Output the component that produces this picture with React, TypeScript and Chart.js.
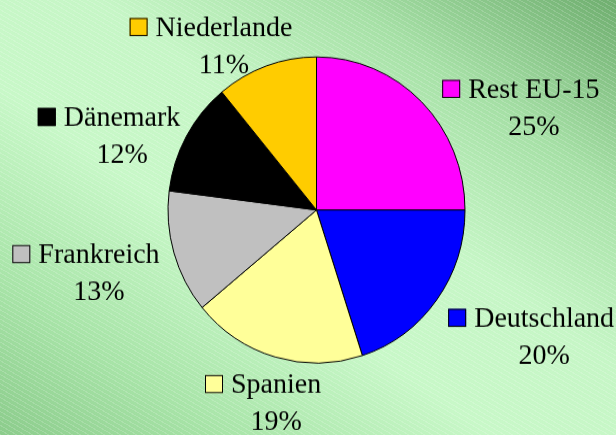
import React, { useEffect, useRef } from "react";
import { Chart, registerables } from "chart.js";

Chart.register(...registerables);

// ---- data ----
const categories = ["Rest EU-15", "Deutschland", "Spanien", "Frankreich", "Dänemark", "Niederlande"];
const shares = [25, 20, 19, 13, 12, 11];
const sliceColors = ["#FF00FF", "#0000FF", "#FFFF99", "#C0C0C0", "#000000", "#FFCC00"];

// ---- label layout (relative to each slice's mid angle / radius) ----
const labelShiftDeg = [20.4, -7.7, -4.0, 0.6, -8.4, -10.3];
const labelDist = [1.61, 1.741, 1.287, 1.521, 1.397, 1.242];

const W = 616;
const H_SCREEN = 435;
const H = 422; // internal canvas height, stretched to 435 (pie is slightly taller than wide)
const SY = H / H_SCREEN;

const labelPlugin = {
  id: "pieLabels",
  afterDatasetsDraw(chart: any) {
    const ctx = chart.ctx as CanvasRenderingContext2D;
    const meta = chart.getDatasetMeta(0);
    const data = chart.data.datasets[0].data as number[];
    const total = data.reduce((a, b) => a + b, 0);
    ctx.save();
    ctx.font = "28px 'Liberation Serif', 'Times New Roman', serif";
    ctx.fillStyle = "#000000";
    ctx.textBaseline = "alphabetic";
    ctx.textAlign = "center";
    meta.data.forEach((arc: any, i: number) => {
      const { x, y, startAngle, endAngle, outerRadius } = arc.getProps(
        ["x", "y", "startAngle", "endAngle", "outerRadius"],
        true
      );
      const mid = (startAngle + endAngle) / 2 + (labelShiftDeg[i] * Math.PI) / 180;
      const d = outerRadius * labelDist[i];
      const cx = x + Math.cos(mid) * d;
      const cy = y + Math.sin(mid) * d;
      const base1 = cy - 9.5 * SY;
      const base2 = base1 + 37 * SY;
      const name = chart.data.labels[i] as string;
      const nameW = ctx.measureText(name).width;
      ctx.fillText(name, cx, base1);
      const pct = Math.round((data[i] / total) * 100) + "%";
      ctx.fillText(pct, cx, base2);
      // legend key
      const bs = 18;
      const bx = cx - nameW / 2 - 8 - bs;
      const bh = bs * SY;
      ctx.fillStyle = sliceColors[i];
      ctx.fillRect(bx, base1 - bh, bs, bh);
      ctx.lineWidth = 1;
      ctx.strokeStyle = "#000000";
      ctx.strokeRect(bx + 0.5, base1 - bh + 0.5, bs - 1, bh - 1);
      ctx.fillStyle = "#000000";
    });
    ctx.restore();
  },
};

export default function App() {
  const ref = useRef<HTMLCanvasElement | null>(null);

  useEffect(() => {
    document.body.style.margin = "0";
    const canvas = ref.current;
    if (!canvas) return;
    const chart = new Chart(canvas, {
      type: "pie",
      data: {
        labels: categories,
        datasets: [
          {
            data: shares,
            backgroundColor: sliceColors,
            borderColor: "#000000",
            borderWidth: 1,
            hoverBorderWidth: 1,
            hoverOffset: 0,
            offset: 0,
          },
        ],
      },
      options: {
        responsive: false,
        animation: false,
        events: [],
        layout: {
          padding: { left: 167.5, right: 150.5, top: 54.7, bottom: 69.3 },
        },
        plugins: {
          legend: { display: false },
          tooltip: { enabled: false },
        },
      },
      plugins: [labelPlugin],
    });
    return () => chart.destroy();
  }, []);

  return (
    <div
      style={{
        position: "fixed",
        left: 0,
        top: 0,
        width: W,
        height: H_SCREEN,
        background:
          "repeating-linear-gradient(30deg, rgba(255,255,255,0.16) 0px, rgba(255,255,255,0.16) 1px, rgba(255,255,255,0) 1px, rgba(255,255,255,0) 4px), linear-gradient(to bottom left, #6fae6f 0%, #a6e0a6 22%, #c6f6c6 42%, #c8f8c8 60%, #a8e4a8 82%, #8ccc8c 100%)",
      }}
    >
      <canvas
        ref={ref}
        width={W}
        height={H}
        style={{ width: W, height: H_SCREEN, display: "block" }}
      />
    </div>
  );
}
